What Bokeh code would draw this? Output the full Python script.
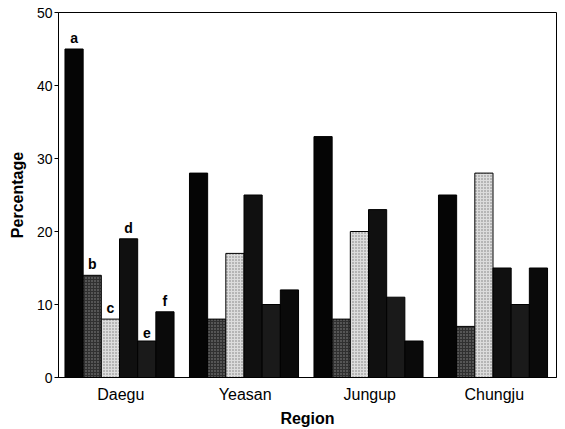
from bokeh.plotting import figure
from bokeh.models import FactorRange, Range1d, FixedTicker, ColumnDataSource
from bokeh.transform import dodge
from bokeh.core.properties import value
from bokeh.embed import file_html
from bokeh.resources import INLINE

regions = ["Daegu", "Yeasan", "Jungup", "Chungju"]
series_names = ["a", "b", "c", "d", "e", "f"]
a_vals = [45, 28, 33, 25]
b_vals = [14, 8, 8, 7]
c_vals = [8, 17, 20, 28]
d_vals = [19, 25, 23, 15]
e_vals = [5, 10, 11, 10]
f_vals = [9, 12, 5, 15]
all_vals = [a_vals, b_vals, c_vals, d_vals, e_vals, f_vals]
y_ticks = [0, 10, 20, 30, 40, 50]

FONT = "Liberation Sans"

p = figure(x_range=FactorRange(*regions, range_padding=0), y_range=Range1d(0, 50),
           width=565, height=429, output_backend="svg", toolbar_location=None,
           min_border_left=58, min_border_right=9, min_border_top=12, min_border_bottom=51)

styles = [
    dict(fill_color="#050505"),
    dict(fill_color="#303030", hatch_pattern="dot", hatch_color="#8c8c8c", hatch_scale=3, hatch_weight=1),
    dict(fill_color="#dcdcdc", hatch_pattern="dot", hatch_color="#7a7a7a", hatch_scale=3, hatch_weight=1),
    dict(fill_color="#101010"),
    dict(fill_color="#1a1a1a"),
    dict(fill_color="#0a0a0a"),
]

w = 0.146
for i, (name, vals) in enumerate(zip(series_names, all_vals)):
    off = (i - 2.5) * w - 0.01
    src = ColumnDataSource(dict(x=regions, top=vals, lab=[name] + [""] * (len(regions) - 1)))
    p.vbar(x=dodge("x", off, range=p.x_range), top="top", width=w, source=src,
           line_color="black", line_width=1, **styles[i])
    p.text(x=dodge("x", off, range=p.x_range), y="top", text="lab", source=src,
           text_align="center", text_baseline="bottom", y_offset=-3,
           text_font=value(FONT), text_font_size="14px", text_font_style="bold",
           text_color="black")

p.xgrid.visible = False
p.ygrid.visible = False
p.outline_line_color = "black"
p.outline_line_width = 1

p.yaxis.ticker = FixedTicker(ticks=y_ticks)
p.yaxis.minor_tick_line_color = None
p.yaxis.major_tick_out = 4
p.yaxis.major_tick_in = 0
p.yaxis.axis_label = "Percentage"
p.xaxis.axis_label = "Region"
p.xaxis.major_tick_line_color = None
p.xaxis.minor_tick_line_color = None
p.xaxis.major_tick_out = 0
p.xaxis.major_tick_in = 0

for ax in (p.xaxis, p.yaxis):
    ax.axis_line_color = "black"
    ax.major_label_text_font = FONT
    ax.major_label_text_color = "black"
    ax.axis_label_text_font = FONT
    ax.axis_label_text_font_style = "bold"
    ax.axis_label_text_color = "black"
p.xaxis.major_label_text_font_size = "16px"
p.yaxis.major_label_text_font_size = "14px"
p.xaxis.axis_label_text_font_size = "16px"
p.yaxis.axis_label_text_font_size = "16px"
p.xaxis.major_label_standoff = 8
p.xaxis.axis_label_standoff = 4
p.yaxis.major_label_standoff = 2
p.yaxis.axis_label_standoff = 8

open("out.html", "w").write(file_html(p, INLINE))
